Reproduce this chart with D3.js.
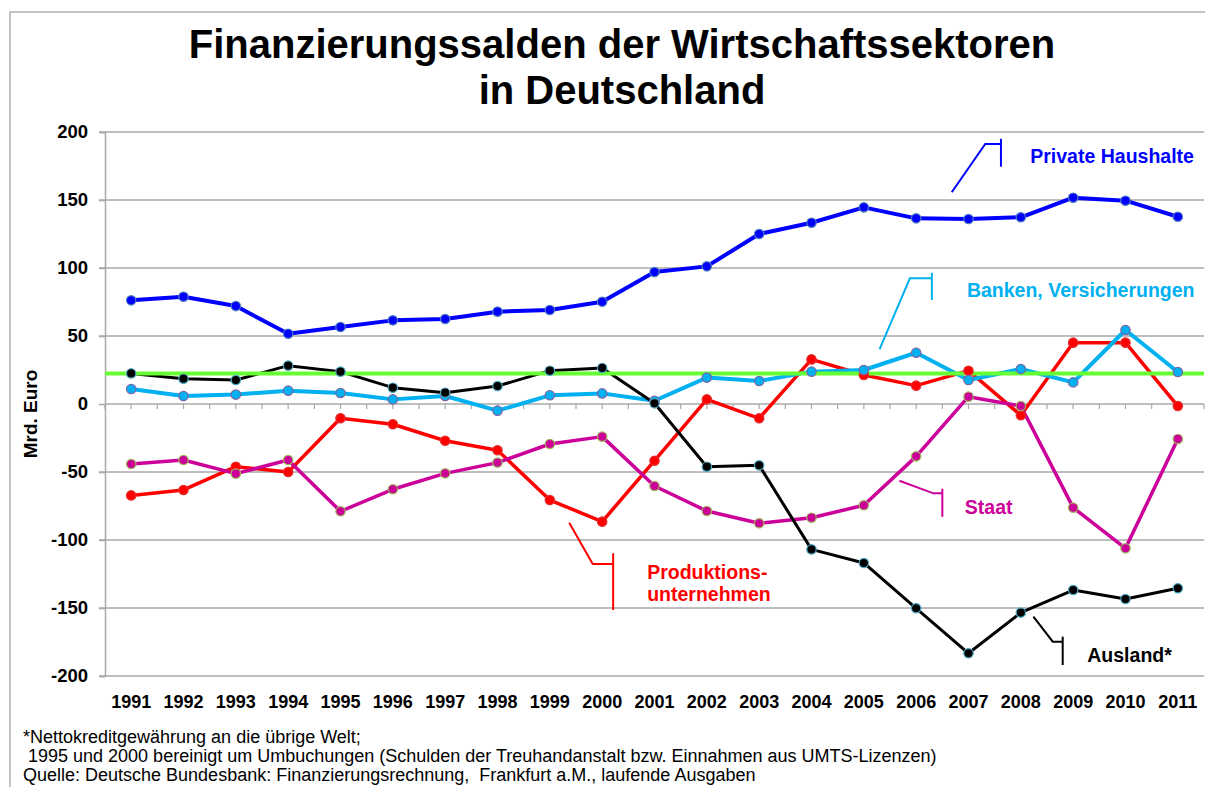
<!DOCTYPE html>
<html>
  <head>
    <meta charset="UTF-8">
    <title>Finanzierungssalden der Wirtschaftssektoren</title>
    <style type="text/css">
      body { margin: 0; background: #fff; }
      svg text { font-family: "Liberation Sans", Arial, sans-serif; }
    </style>
  </head>
  <body>
    <script src="https://cdn.jsdelivr.net/npm/d3@7"></script>
    <script>

      // Data (Mrd. Euro)
      var years = ["1991","1992","1993","1994","1995","1996","1997","1998","1999","2000",
                   "2001","2002","2003","2004","2005","2006","2007","2008","2009","2010","2011"];

      var privateHaushalte = [76.2, 78.9, 72.0, 51.7, 56.6, 61.5, 62.5, 67.9, 69.1, 75.2,
                              97.0, 101.2, 125.0, 133.3, 144.6, 136.5, 136.0, 137.3, 151.7, 149.5, 137.7];
      var produktion = [-67.2, -63.2, -46.1, -50.0, -10.5, -14.9, -27.0, -34.0, -70.6, -86.5,
                        -41.7, 3.4, -10.5, 32.8, 21.3, 13.5, 24.5, -8.3, 45.1, 45.1, -1.5];
      var banken = [11.0, 5.9, 6.9, 9.8, 8.1, 3.4, 5.9, -4.9, 6.4, 7.8,
                    2.4, 19.4, 16.9, 23.8, 25.0, 37.7, 17.6, 25.7, 15.9, 54.4, 23.5];
      var staat = [-44.1, -41.2, -51.2, -41.2, -78.9, -62.7, -51.0, -43.1, -29.4, -24.0,
                   -60.3, -78.7, -87.7, -83.6, -74.5, -38.5, 5.4, -1.5, -76.2, -106.1, -25.7];
      var ausland = [22.5, 18.6, 17.6, 28.2, 23.8, 12.0, 8.3, 13.2, 24.5, 26.5,
                     0.5, -46.1, -45.1, -106.9, -116.9, -150.2, -183.3, -153.4, -136.8, -143.4, -135.5];
      var referenceLine = 22.5;

      var yTicks = [200, 150, 100, 50, 0, -50, -100, -150, -200];

      var footnotes = ["*Nettokreditgewährung an die übrige Welt;",
                       " 1995 und 2000 bereinigt um Umbuchungen (Schulden der Treuhandanstalt bzw. Einnahmen aus UMTS-Lizenzen)",
                       "Quelle: Deutsche Bundesbank: Finanzierungsrechnung,  Frankfurt a.M., laufende Ausgaben"];

      // series styles (draw order)
      var series = [
        {name: "Private Haushalte", values: privateHaushalte, color: "#0000ff", marker: "#4f81bd", width: 4},
        {name: "Produktionsunternehmen", values: produktion, color: "#ff0000", marker: "#e03030", width: 3.5},
        {name: "Staat", values: staat, color: "#cc0099", marker: "#9bbb59", width: 3.5},
        {name: "Banken, Versicherungen", values: banken, color: "#00b0f0", marker: "#8064a2", width: 4},
        {name: "Ausland", values: ausland, color: "#000000", marker: "#4bacc6", width: 3}
      ];

      // labels with callouts, positions in (year index, value) units
      var callouts = [
        {lines: ["Private Haushalte"], color: "#0000ff", text: [17.18, 177.2],
         path: [[15.68,155.7],[16.32,191.2],[16.62,191.2]], bar: [16.62, 195, 174.5]},
        {lines: ["Banken, Versicherungen"], color: "#00b0f0", text: [15.97, 78.7],
         path: [[14.30,40.2],[14.88,92.4],[15.30,92.4]], bar: [15.30, 96.5, 76.5]},
        {lines: ["Produktions-", "unternehmen"], color: "#ff0000", text: [9.86, -128.7],
         path: [[8.37,-87.3],[8.82,-117.6],[9.21,-117.6]], bar: [9.21, -109.8, -151.5]},
        {lines: ["Staat"], color: "#cc0099", text: [15.93, -80.9],
         path: [[14.68,-56.4],[15.33,-65.7],[15.5,-65.7]], bar: [15.5, -62.3, -82.9]},
        {lines: ["Ausland*"], color: "#000000", text: [18.27, -189.7],
         path: [[17.24,-156.4],[17.61,-174.8],[17.80,-174.8]], bar: [17.80, -171.1, -191.9]}
      ];

      // Build svg
      var svgWidth = 1205,
          svgHeight = 787,
          plot = {left: 105, right: 1204, top: 132, bottom: 676};

      var svg = d3.select("body")
                  .append("svg")
                  .attr("width", svgWidth)
                  .attr("height", svgHeight);

      // outer frame
      svg.append("path")
         .attr("d", "M10," + svgHeight + "V12H" + svgWidth)
         .attr("fill", "none")
         .attr("stroke", "#b0b0b0")
         .attr("stroke-width", 1.5);

      // Scales
      var xScale = d3.scaleBand()
                     .domain(years)
                     .range([plot.left, plot.right]);
      var xIdx = d3.scaleLinear()
                   .domain([-0.5, years.length - 0.5])
                   .range([plot.left, plot.right]);
      var yScale = d3.scaleLinear()
                     .domain([-200, 200])
                     .range([plot.bottom, plot.top]);

      // Gridlines
      svg.append("g")
         .selectAll("line")
         .data(yTicks.filter(d => d != 0))
         .enter()
         .append("line")
         .attr("x1", plot.left - 6)
         .attr("x2", plot.right)
         .attr("y1", d => yScale(d))
         .attr("y2", d => yScale(d))
         .attr("stroke", "#a8a8a8")
         .attr("stroke-width", 1.5);

      // Y axis (plain hyphen for negatives, like the original)
      var yAxis = d3.axisLeft(yScale)
                    .tickValues(yTicks)
                    .tickFormat(d => String(d))
                    .tickSize(6)
                    .tickPadding(11);
      var gY = svg.append("g")
                  .attr("transform", "translate(" + plot.left + ",0)")
                  .call(yAxis);
      gY.select(".domain").attr("stroke", "#a8a8a8").attr("stroke-width", 1.5);
      gY.selectAll(".tick line").attr("stroke", "#a8a8a8").attr("stroke-width", 1.5);
      gY.selectAll(".tick text")
        .attr("font-family", "'Liberation Sans', Arial, sans-serif")
        .attr("font-size", "18.5px")
        .attr("font-weight", "bold")
        .attr("fill", "#000");

      // X axis along zero line, ticks at every half category
      var zeroY = yScale(0);
      svg.append("line")
         .attr("x1", plot.left)
         .attr("x2", plot.right)
         .attr("y1", zeroY)
         .attr("y2", zeroY)
         .attr("stroke", "#a8a8a8")
         .attr("stroke-width", 1.5);
      svg.append("g")
         .selectAll("line")
         .data(d3.range(-0.5, years.length, 0.5))
         .enter()
         .append("line")
         .attr("x1", d => xIdx(d))
         .attr("x2", d => xIdx(d))
         .attr("y1", zeroY)
         .attr("y2", zeroY + 5)
         .attr("stroke", "#a8a8a8")
         .attr("stroke-width", 1.2);

      // year labels at the bottom
      svg.append("g")
         .selectAll("text")
         .data(years)
         .enter()
         .append("text")
         .attr("x", d => xScale(d) + xScale.bandwidth() / 2)
         .attr("y", 707.5)
         .attr("text-anchor", "middle")
         .attr("font-size", "18px")
         .attr("font-weight", "bold")
         .text(d => d);

      // Y axis title
      svg.append("text")
         .attr("transform", "translate(37,414) rotate(-90)")
         .attr("text-anchor", "middle")
         .attr("font-size", "19px")
         .attr("font-weight", "bold")
         .text("Mrd. Euro");

      // Title
      var title = svg.append("text")
                     .attr("text-anchor", "middle")
                     .attr("font-size", "40px")
                     .attr("font-weight", "bold");
      title.append("tspan").attr("x", 622).attr("y", 58).text("Finanzierungssalden der Wirtschaftssektoren");
      title.append("tspan").attr("x", 622).attr("y", 104).text("in Deutschland");

      // Lines
      var line = d3.line()
                   .x((d, i) => xScale(years[i]) + xScale.bandwidth() / 2)
                   .y(d => yScale(d));

      svg.append("g")
         .selectAll("path")
         .data(series)
         .enter()
         .append("path")
         .attr("d", d => line(d.values))
         .attr("fill", "none")
         .attr("stroke", d => d.color)
         .attr("stroke-width", d => d.width)
         .attr("stroke-linejoin", "round");

      // reference line
      svg.append("line")
         .attr("x1", plot.left)
         .attr("x2", plot.right)
         .attr("y1", yScale(referenceLine))
         .attr("y2", yScale(referenceLine))
         .attr("stroke", "#66ff33")
         .attr("stroke-width", 4);

      // Markers
      series.forEach(function(s) {
        svg.append("g")
           .selectAll("circle")
           .data(s.values)
           .enter()
           .append("circle")
           .attr("cx", (d, i) => xScale(years[i]) + xScale.bandwidth() / 2)
           .attr("cy", d => yScale(d))
           .attr("r", 4.7)
           .attr("fill", s.color)
           .attr("stroke", s.marker)
           .attr("stroke-width", 1.2);
      });

      // Callout labels
      var lineGen = d3.line().x(d => xIdx(d[0])).y(d => yScale(d[1]));
      callouts.forEach(function(c) {
        var g = svg.append("g");
        g.append("path")
         .attr("d", lineGen(c.path))
         .attr("fill", "none")
         .attr("stroke", c.color)
         .attr("stroke-width", 2);
        g.append("line")
         .attr("x1", xIdx(c.bar[0]))
         .attr("x2", xIdx(c.bar[0]))
         .attr("y1", yScale(c.bar[1]))
         .attr("y2", yScale(c.bar[2]))
         .attr("stroke", c.color)
         .attr("stroke-width", 2);
        g.selectAll("text")
         .data(c.lines)
         .enter()
         .append("text")
         .attr("x", xIdx(c.text[0]))
         .attr("y", (d, i) => yScale(c.text[1]) + i * 22)
         .attr("fill", c.color)
         .attr("font-size", "19.5px")
         .attr("font-weight", "bold")
         .text(d => d);
      });

      // Footnotes
      svg.append("g")
         .selectAll("text")
         .data(footnotes)
         .enter()
         .append("text")
         .attr("x", 23)
         .attr("y", (d, i) => 743 + i * 19)
         .attr("font-size", "18px")
         .style("white-space", "pre")
         .text(d => d);

    </script>
  </body>
</html>
